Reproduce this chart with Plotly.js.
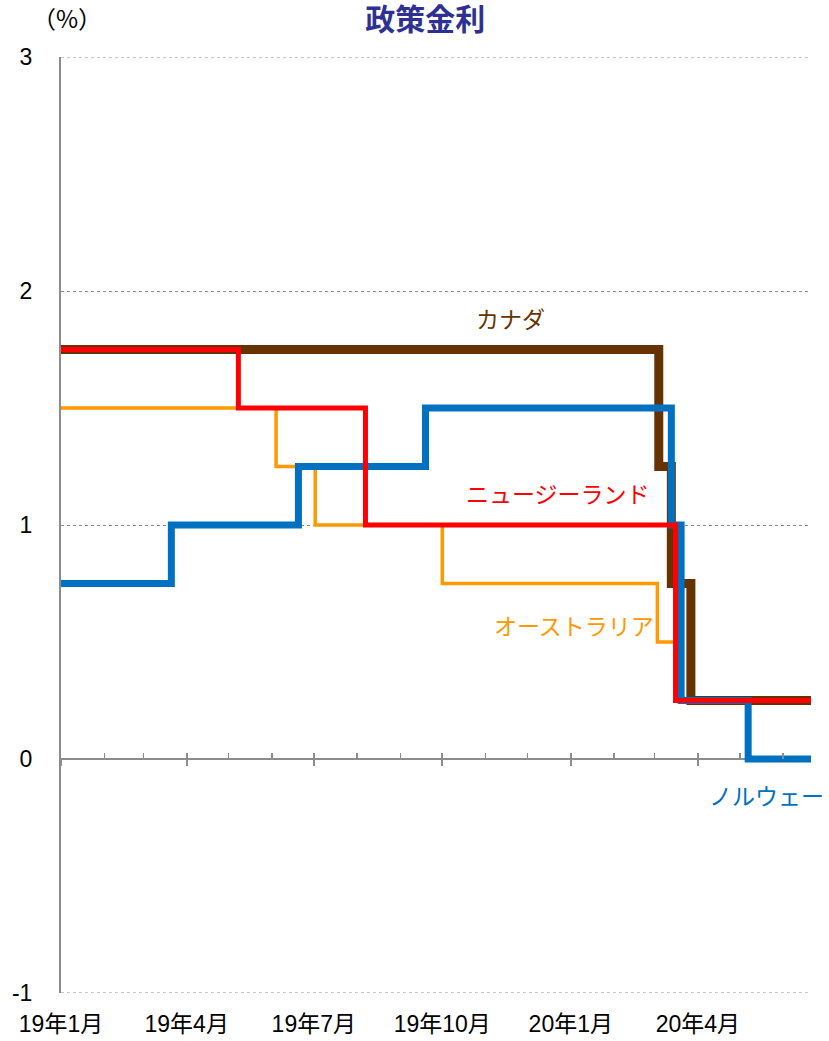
<!DOCTYPE html>
<html>
<head>
<meta charset="utf-8">
<script src="https://cdn.plot.ly/plotly-3.0.1.min.js"></script>
<style>
  html, body { margin: 0; padding: 0; background: #fff; }
  #plot { width: 829px; height: 1041px; }
</style>
</head>
<body>
<div id="plot"></div>
<script>
// policy rates (%), step dates where the rate changed
var canadaDates = ['2019-01-01', '2020-03-04', '2020-03-13', '2020-03-27', '2020-06-21'];
var canadaRates = [1.75, 1.25, 0.75, 0.25, 0.25];

var nzDates = ['2019-01-01', '2019-05-08', '2019-08-07', '2020-03-16', '2020-06-21'];
var nzRates = [1.75, 1.5, 1.0, 0.25, 0.25];

var ausDates = ['2019-01-01', '2019-06-04', '2019-07-02', '2019-10-01', '2020-03-03', '2020-03-19', '2020-06-21'];
var ausRates = [1.5, 1.25, 1.0, 0.75, 0.5, 0.25, 0.25];

var norDates = ['2019-01-01', '2019-03-21', '2019-06-20', '2019-09-19', '2020-03-13', '2020-03-20', '2020-05-07', '2020-06-21'];
var norRates = [0.75, 1.0, 1.25, 1.5, 1.0, 0.25, 0.0, 0.0];

var tickDates = ['2019-01-01', '2019-04-01', '2019-07-01', '2019-10-01', '2020-01-01', '2020-04-01'];
var tickLabels = ['19年1月', '19年4月', '19年7月', '19年10月', '20年1月', '20年4月'];

var yTicks = [-1, 0, 1, 2, 3];

var xRange = ['2019-01-01', '2020-06-21'];
var grey = '#8c8c8c';
var fnt = 'Liberation Sans, Arial, Noto Sans CJK JP, sans-serif';
var jp = 'Noto Sans CJK JP, sans-serif';

function step(x, y, color, w) {
  return {x: x, y: y, type: 'scatter', mode: 'lines',
    line: {shape: 'hv', color: color, width: w}, hoverinfo: 'skip', showlegend: false};
}

// invisible carriers so the tick-only overlay axes get drawn
function carrier(ax) {
  return {x: canadaDates, y: canadaRates, xaxis: ax, type: 'scatter', mode: 'lines',
    line: {width: 0}, opacity: 0, hoverinfo: 'skip', showlegend: false};
}

var data = [
  carrier('x2'),
  carrier('x3'),
  step(ausDates, ausRates, '#FF9900', 3.5),
  step(canadaDates, canadaRates, '#663300', 9),
  step(norDates, norRates, '#0070C0', 7),
  step(nzDates, nzRates, '#FF0000', 5)
];

// plotly skips grid lines on the range edges, so draw those two by hand
var edgeGrid = [yTicks[0], yTicks[yTicks.length - 1]].map(function (v) {
  return {type: 'line', xref: 'paper', x0: 0, x1: 1, yref: 'y', y0: v, y1: v, layer: 'below',
    line: {color: grey, width: 1, dash: 'dot'}};
});

var layout = {
  width: 829, height: 1041,
  margin: {l: 61, r: 18, t: 57, b: 48},
  paper_bgcolor: '#fff', plot_bgcolor: '#fff',
  showlegend: false,
  font: {family: fnt, color: '#000'},
  title: {text: '<b>政策金利</b>', x: 0.513, xanchor: 'center', y: 0.981, yanchor: 'middle',
    font: {size: 30, color: '#2E3192', family: jp}},
  xaxis: {type: 'date', range: xRange, showgrid: false, zeroline: false, showline: false,
    tickmode: 'array', tickvals: tickDates, ticktext: tickLabels,
    ticks: 'outside', ticklen: 10, tickcolor: 'rgba(0,0,0,0)',
    tickfont: {size: 23, family: fnt}},
  xaxis2: {type: 'date', range: xRange, overlaying: 'x', anchor: 'free', position: 0.25,
    showgrid: false, zeroline: false, showline: false, showticklabels: false,
    tickmode: 'array', tickvals: tickDates, ticks: 'inside', ticklen: 6, tickwidth: 2, tickcolor: grey,
    minor: {dtick: 'M1', tick0: '2019-01-01', ticks: 'inside', ticklen: 6, tickwidth: 1.5, tickcolor: grey, showgrid: false}},
  xaxis3: {type: 'date', range: xRange, overlaying: 'x', anchor: 'free', position: 0.25,
    showgrid: false, zeroline: false, showline: false, showticklabels: false,
    tickmode: 'array', tickvals: tickDates, ticks: 'outside', ticklen: 6, tickwidth: 2, tickcolor: grey},
  yaxis: {range: [-1, 3], tickvals: yTicks, ticktext: yTicks.map(String),
    showgrid: true, gridcolor: grey, griddash: 'dot', gridwidth: 1,
    zeroline: true, zerolinecolor: grey, zerolinewidth: 2,
    showline: true, linecolor: grey, linewidth: 2,
    ticks: 'outside', ticklen: 22, tickcolor: 'rgba(0,0,0,0)',
    tickfont: {size: 23, family: fnt}},
  shapes: edgeGrid,
  annotations: [
    {text: '（%）', xref: 'paper', yref: 'paper', x: 0.008, y: 1.042, xanchor: 'center', yanchor: 'middle',
      showarrow: false, font: {size: 24, family: jp}},
    {text: 'カナダ', xref: 'paper', yref: 'paper', x: 0.599, y: 0.721, xanchor: 'center', yanchor: 'middle',
      showarrow: false, font: {size: 23, color: '#663300', family: jp}},
    {text: 'ニュージーランド', xref: 'paper', yref: 'paper', x: 0.662, y: 0.534, xanchor: 'center', yanchor: 'middle',
      showarrow: false, font: {size: 23, color: '#FF0000', family: jp}},
    {text: 'オーストラリア', xref: 'paper', yref: 'paper', x: 0.684, y: 0.393, xanchor: 'center', yanchor: 'middle',
      showarrow: false, font: {size: 23, color: '#FF9900', family: jp}},
    {text: 'ノルウェー', xref: 'paper', yref: 'paper', x: 0.941, y: 0.2115, xanchor: 'center', yanchor: 'middle',
      showarrow: false, font: {size: 23, color: '#0070C0', family: jp}}
  ]
};

Plotly.newPlot('plot', data, layout, {staticPlot: true});
</script>
</body>
</html>
